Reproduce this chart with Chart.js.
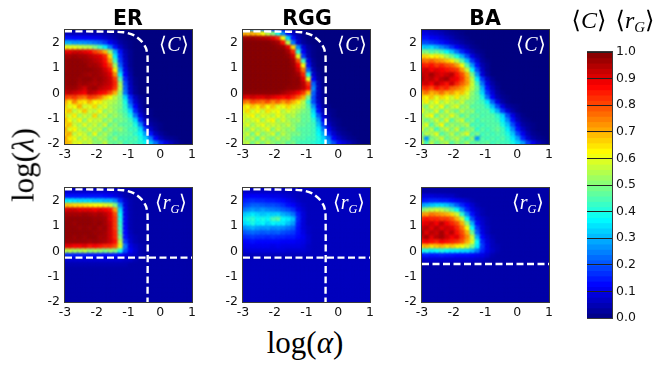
<!DOCTYPE html>
<html><head><meta charset="utf-8">
<script src="https://cdn.jsdelivr.net/npm/chart.js@4"></script>
<style>
html,body{margin:0;padding:0;background:#fff;width:664px;height:366px;overflow:hidden}
canvas{position:absolute}
.t{position:absolute;white-space:nowrap;transform:translate(-50%,-50%);line-height:1}
.title{font:bold 20.5px "DejaVu Sans";color:#000}
.math{font-family:"Liberation Serif","DejaVu Serif",serif;color:#000}
.ann{color:#fff;font-size:20px;font-family:"Liberation Serif",serif}
sub{font-size:.62em;line-height:0;font-style:italic;vertical-align:-.3em}
</style></head><body>
<script>
const alphaGrid=[-3,-2.84,-2.68,-2.52,-2.36,-2.2,-2.04,-1.88,-1.72,-1.56,-1.4,-1.24,-1.08,-0.92,-0.76,-0.6,-0.44,-0.28,-0.12,0.04,0.2,0.36,0.52,0.68,0.84,1];
const lambdaGrid=[2.5,2.32,2.14,1.96,1.78,1.6,1.42,1.24,1.06,0.88,0.7,0.52,0.34,0.16,-0.02,-0.2,-0.38,-0.56,-0.74,-0.92,-1.1,-1.28,-1.46,-1.64,-1.82,-2];
const alphaTicks=[-3,-2,-1,0,1];
const lambdaTicks=[-2,-1,0,1,2];
const colorTicks=[0,0.1,0.2,0.3,0.4,0.5,0.6,0.7,0.8,0.9,1];
const colorLevels=[0.01,0.03,0.05,0.07,0.09,0.11,0.13,0.15,0.17,0.19,0.21,0.23,0.25,0.27,0.29,0.31,0.33,0.35,0.37,0.39,0.41,0.43,0.45,0.47,0.49,0.51,0.53,0.55,0.57,0.59,0.61,0.63,0.65,0.67,0.69,0.71,0.73,0.75,0.77,0.79,0.81,0.83,0.85,0.87,0.89,0.91,0.93,0.95,0.97,0.99];
// Percent values, rows top (lambda 2.5) to bottom; columns left (alpha -3) onward; missing cells take the panel's floor.
const erC=[
[3,3,3,3,3,3,3,2,2,2,1,1],
[6,6,6,6,6,5,5,5,4,3,2,1],
[14,14,13,13,12,12,11,10,8,6,4,2,1],
[30,30,28,28,27,26,24,22,18,12,8,4,2,1],
[62,60,60,58,56,55,50,44,36,25,14,7,3,1],
[90,90,92,92,90,88,82,78,70,52,30,14,5,2],
[96,96,97,96,96,94,92,90,84,66,36,16,6,2],
[97,98,98,98,97,96,94,92,86,72,44,18,7,2],
[97,98,98,98,98,96,96,94,88,80,54,22,8,2],
[97,98,98,98,98,98,97,96,92,86,64,28,10,3],
[98,98,98,98,97,96,97,96,94,90,74,36,12,4],
[97,98,98,97,98,98,96,97,95,92,82,46,16,5,1],
[97,98,98,96,97,96,95,96,94,92,84,54,20,6,1],
[96,97,97,95,92,96,97,94,92,90,82,56,22,7,2],
[92,94,92,90,88,94,92,88,86,80,70,52,24,8,2],
[82,80,82,78,76,82,80,76,68,62,56,50,34,16,6,2,1],
[72,64,74,66,64,70,62,64,58,56,54,50,40,20,8,3,1],
[68,60,62,70,58,60,66,56,60,54,52,50,42,26,12,4,1],
[64,68,56,60,68,58,56,62,52,56,52,48,44,34,16,6,2,1],
[66,58,64,54,58,55,66,54,58,50,54,50,46,40,24,10,4,1],
[70,62,56,63,52,60,56,58,50,55,48,50,48,44,34,16,6,2,1],
[65,68,58,54,60,54,58,52,58,48,52,47,46,46,40,26,10,4,2,1],
[72,60,63,56,52,59,53,57,48,54,49,52,48,44,44,34,18,7,3,1],
[67,70,56,60,57,51,61,50,55,50,46,48,47,46,42,38,28,14,6,3,1],
[73,64,61,54,59,56,50,55,52,47,52,45,46,44,46,40,34,24,12,6,3,2,1],
[70,68,59,61,55,58,52,51,57,49,47,50,44,46,44,42,38,32,24,16,10,6,3,1]];
const rggC=[
[22,26,28,26,24,20,16,12,8,5,3,2,1],
[70,70,70,68,62,56,50,40,26,14,7,3,1],
[97,97,97,96,95,94,90,84,62,34,14,6,2],
[99,99,99,99,99,99,98,96,86,56,24,8,3,1],
[99,99,99,99,99,99,99,98,97,90,66,26,9,3,1],
[99,99,99,99,99,99,99,99,99,96,84,42,12,4,1],
[99,99,99,99,99,99,99,99,99,98,92,60,18,5,1],
[99,99,99,99,99,99,99,99,99,99,96,80,44,10,2],
[99,99,99,99,99,99,99,99,99,99,97,88,62,14,3],
[99,99,99,99,99,99,99,99,99,99,98,92,76,22,5,1],
[99,99,99,99,99,99,99,99,99,99,98,96,84,40,8,2],
[99,99,99,99,99,99,99,99,99,99,98,98,90,60,12,3,1],
[99,99,99,99,99,99,99,99,99,99,98,98,94,82,22,5,1],
[99,99,99,99,99,99,99,99,99,98,98,97,94,86,26,6,1],
[98,98,98,98,98,98,98,98,96,94,92,88,82,68,22,6,2],
[92,90,92,90,90,92,90,88,86,88,84,78,70,50,20,6,2],
[78,74,80,78,76,80,74,78,72,76,70,64,56,42,20,7,2],
[66,62,68,64,70,62,68,60,62,66,60,58,54,46,28,10,3,1],
[60,66,58,63,57,65,60,62,55,60,57,54,50,48,34,14,5,2,1],
[57,60,63,55,60,58,55,61,58,53,56,51,48,48,38,22,8,3,1],
[61,55,58,61,53,60,63,53,59,54,51,53,47,48,42,28,12,4,2,1],
[55,60,53,58,61,55,58,56,53,57,52,49,48,46,44,32,18,7,3,1],
[58,51,59,53,56,61,51,58,54,51,54,47,46,46,44,36,24,11,5,2,1],
[53,58,49,59,51,54,59,49,56,52,49,50,46,46,44,38,30,16,8,4,2,1],
[59,51,56,47,58,52,49,56,50,53,47,46,46,44,44,40,34,24,12,7,4,2,1],
[54,57,49,56,50,56,52,49,52,47,50,45,44,44,42,40,36,28,20,13,9,6,3,1]];
const baC=[
[6,6,5,4,3,2,1],
[10,10,8,7,6,4,3,2,1],
[14,14,12,11,9,7,5,3,2,1],
[20,20,18,16,14,11,8,6,4,2,1],
[34,32,34,30,26,22,17,12,8,5,2,1],
[50,50,46,48,44,38,32,24,16,10,5,2,1],
[66,66,62,64,60,54,48,40,30,20,10,5,2],
[78,76,78,74,72,68,64,56,46,32,18,9,3,1],
[86,84,86,82,84,80,78,72,62,46,28,14,5,2],
[90,92,88,90,88,86,84,82,72,58,38,20,7,2],
[94,92,96,92,90,92,94,86,80,70,50,28,9,3],
[96,92,94,90,94,96,90,88,82,72,56,36,18,7,2],
[90,92,88,94,90,86,92,84,78,72,58,44,24,10,4,1],
[82,84,80,86,82,84,78,76,72,66,56,48,30,14,6,2],
[72,76,70,72,76,70,72,66,68,60,52,46,34,18,9,3,1],
[66,62,68,60,66,62,58,64,56,58,50,48,40,24,12,5,2,1],
[58,64,56,62,54,60,56,52,58,50,50,46,44,36,22,10,4,1],
[56,50,60,54,62,50,56,60,50,54,46,47,46,42,32,20,10,4,2,1],
[62,54,52,60,48,58,52,48,56,50,52,45,46,46,40,30,18,9,4,1],
[50,58,62,48,56,52,60,54,46,52,46,48,45,46,46,42,34,20,10,4,1],
[56,48,52,58,50,60,46,54,58,46,50,44,47,46,46,44,36,26,14,6,2,1],
[52,60,46,54,62,48,54,50,52,56,44,46,44,46,46,46,40,32,20,10,4,2,1],
[60,50,56,44,52,58,50,58,46,50,52,42,47,44,46,48,44,36,26,14,7,3,1],
[48,56,54,60,46,50,56,48,54,60,46,50,44,46,44,46,44,40,32,20,11,5,2,1],
[54,28,50,52,58,48,52,56,50,44,52,28,46,44,46,44,46,42,36,28,16,8,4,2,1],
[58,44,56,48,52,56,46,52,48,54,46,48,46,48,44,46,44,44,40,34,28,18,11,6,3,1]];
const erR=[
[],
[8,8,8,8,8,8,8,8,8,7,7,5],
[14,14,14,14,14,14,14,14,13,12,10,8,5],
[36,36,35,34,34,34,32,32,30,30,26,16,8,5],
[68,68,66,66,65,64,62,62,60,58,50,26,9,5],
[90,92,92,90,90,90,88,90,88,86,72,34,10,5],
[96,96,96,96,97,96,95,96,94,90,80,38,10,5],
[97,98,98,98,98,98,97,97,96,90,82,40,11,5],
[98,98,97,98,98,98,97,98,96,92,82,42,11,5],
[98,98,98,97,98,97,98,96,97,92,82,44,12,5],
[98,98,98,98,98,98,97,97,96,92,84,46,13,6],
[98,98,97,98,97,98,98,96,96,92,84,50,14,7,5],
[97,97,97,97,97,96,97,96,95,92,86,56,18,8,5],
[90,90,88,88,90,86,88,86,84,84,80,60,24,10,7,5],
[56,56,54,54,56,52,54,52,50,52,50,40,20,12,8,5],
[16,16,15,15,15,14,14,14,13,14,14,12,10,8,7,5],
[8,8,8,8,8,8,8,8,8,8,8,8,7,7,5],
[5,5,5,5,5,5,5,5,5,5,5,5,5]];
const rggR=[
[],
[7,7,7,7,7,7,7,7,6],
[11,12,12,12,11,11,10,10,9,8,7],
[15,16,17,16,16,15,15,14,13,11,9,7],
[18,20,22,22,21,20,20,19,17,14,12,9,7],
[24,26,28,26,28,26,25,24,22,20,17,11,8],
[32,34,36,34,32,34,33,34,30,28,24,15,9],
[36,40,42,38,40,38,44,46,38,36,32,16,9],
[34,36,40,36,38,34,38,36,36,32,28,15,9],
[26,28,30,28,27,28,26,27,26,24,22,14,9,7],
[20,22,23,22,21,22,21,22,20,19,18,14,10,7],
[16,17,18,17,17,16,17,16,16,15,15,13,11,8],
[12,13,14,13,13,13,13,13,12,12,12,11,10,8],
[10,11,11,11,11,11,10,11,10,10,10,10,9,7],
[8,9,9,9,9,9,9,9,9,8,8,8,8,7]];
const baR=[
[],
[],
[9,9,9,8,8,7,7,5],
[14,15,16,16,15,15,13,11,9,7,5],
[28,30,32,34,34,32,28,22,16,12,8,5],
[50,54,56,58,56,52,46,38,26,16,10,7,5],
[72,72,76,74,72,70,66,58,42,26,14,8,5],
[84,86,84,84,82,82,78,70,58,38,20,10,7,5],
[88,90,92,88,94,88,84,80,70,52,30,13,8,5],
[92,94,90,94,90,92,90,84,76,62,38,18,9,6],
[96,90,94,92,96,90,94,86,80,70,48,22,10,6],
[92,96,90,94,96,92,88,90,82,74,58,30,13,8,5],
[86,88,86,84,88,86,84,82,78,70,60,38,16,9,6],
[68,70,66,68,70,66,68,64,62,58,50,36,18,10,6,5],
[38,40,36,38,40,38,36,36,34,34,30,24,16,10,7,5],
[14,15,14,14,15,14,14,13,13,13,12,11,10,8,5],
[8,8,8,8,8,8,8,8,8,8,8,7,7,5]];
// Dashed guide lines
const curveAlpha=[-3,-2,-1.16,-0.84,-0.58,-0.45,-0.4,-0.4];
const curveLambda=[2.45,2.44,2.41,2.3,2.04,1.78,1.45,-2];
const lineAlpha=[-3,1];
const erRggLineLambda=[-0.25,-0.25];
const baLineLambda=[-0.5,-0.5];

function jet(v){const c=x=>Math.round(255*Math.max(0,Math.min(1,x)));
  return `rgb(${c(Math.min(4*v-1.5,-4*v+4.5))},${c(Math.min(4*v-0.5,-4*v+3.5))},${c(Math.min(4*v+0.5,-4*v+2.5))})`;}

const heatPlugin={id:'heat',
  beforeDatasetsDraw(ch,a,o){const {ctx,chartArea:r}=ch;ctx.save();ctx.fillStyle=jet(o.floor/100);
    ctx.fillRect(r.left,r.top,r.width,r.height);ctx.restore();},
  beforeDatasetDraw(ch,a){if(ch.data.datasets[a.index].heat)ch.ctx.filter='blur(1.2px)';},
  afterDatasetDraw(ch,a){if(ch.data.datasets[a.index].heat)ch.ctx.filter='none';},
  afterDraw(ch){frame(ch);}};
function frame(ch){const {ctx,chartArea:r}=ch;ctx.save();ctx.strokeStyle='#3a3a3a';ctx.lineWidth=1;
  ctx.strokeRect(r.left-0.5,r.top-0.5,r.width+1,r.height+1);ctx.restore();}
function noPad(s){s.paddingTop=s.paddingBottom=s.paddingLeft=s.paddingRight=0;}

const tickFont={family:'"DejaVu Sans"',size:12.5};
const PW=127,PH=114,LW=30,BH=20,TOP=2,RIGHT=10;
function place(x,y,w,h){const c=document.createElement('canvas');c.width=w;c.height=h;
  c.style.left=x+'px';c.style.top=y+'px';c.style.width=w+'px';c.style.height=h+'px';document.body.appendChild(c);return c;}

function panel(px,py,values,floor,lines){
  const pts=[],cols=[];
  lambdaGrid.forEach((ly,j)=>{const row=values[j]||[];
    alphaGrid.forEach((ax,i)=>{const v=row[i]===undefined?floor:row[i];
      pts.push({x:ax,y:ly});cols.push(jet(v/100));});});
  const ds=lines.map(l=>({type:'scatter',data:l.x.map((x,i)=>({x,y:l.y[i]})),showLine:true,tension:l.x.length>2?0.25:0,
    borderColor:'#fff',borderWidth:2.4,borderDash:[7,3.5],pointRadius:0,order:1,fill:false}));
  ds.push({type:'scatter',heat:true,data:pts,pointStyle:'rect',pointRadius:4.6,pointHoverRadius:4.6,
    pointBackgroundColor:cols,pointBorderWidth:0,pointBorderColor:'transparent',order:2});
  const c=place(px-LW,py-TOP,LW+PW+RIGHT,TOP+PH+BH);
  return new Chart(c,{type:'scatter',data:{datasets:ds},plugins:[heatPlugin],options:{
    responsive:false,animation:false,events:[],
    layout:{autoPadding:false,padding:{top:TOP,right:RIGHT,left:0,bottom:0}},
    plugins:{legend:{display:false},tooltip:{enabled:false},heat:{floor}},
    scales:{
      x:{type:'linear',min:-3,max:1,afterFit(s){s.height=BH;noPad(s);},
        afterBuildTicks(s){s.ticks=alphaTicks.map(value=>({value}));},
        grid:{display:false,drawTicks:false},border:{display:false},
        ticks:{font:tickFont,color:'#111',padding:3,maxRotation:0,autoSkip:false}},
      y:{type:'linear',min:-2,max:2.5,afterFit(s){s.width=LW;noPad(s);},
        afterBuildTicks(s){s.ticks=lambdaTicks.map(value=>({value}));},
        grid:{display:false,drawTicks:false},border:{display:false},
        ticks:{font:tickFont,color:'#111',padding:5,autoSkip:false}}
    }}});
}
const curve={x:curveAlpha,y:curveLambda};
const colX=[65,243,422],rowY=[30,188];
panel(colX[0],rowY[0],erC,0,[curve]);
panel(colX[1],rowY[0],rggC,0,[curve]);
panel(colX[2],rowY[0],baC,0,[]);
panel(colX[0],rowY[1],erR,4,[curve,{x:lineAlpha,y:erRggLineLambda}]);
panel(colX[1],rowY[1],rggR,6,[curve,{x:lineAlpha,y:erRggLineLambda}]);
panel(colX[2],rowY[1],baR,4,[{x:lineAlpha,y:baLineLambda}]);

// colour bar
(function(){
  const c=place(587,46,60,282);
  new Chart(c,{type:'bar',data:{datasets:[{data:colorLevels.map(l=>({x:1,y:l})),
      backgroundColor:colorLevels.map(jet),barThickness:6.5,borderWidth:0}]},
    plugins:[{id:'cbFrame',afterDraw:frame}],
    options:{indexAxis:'y',responsive:false,animation:false,events:[],
      layout:{autoPadding:false,padding:{top:6,right:0,left:0,bottom:10}},
      plugins:{legend:{display:false},tooltip:{enabled:false}},
      scales:{
        x:{type:'linear',min:0,max:1,display:false},
        y:{type:'linear',position:'right',min:0,max:1,offset:false,
          afterFit(s){s.width=35;noPad(s);},
          afterBuildTicks(s){s.ticks=colorTicks.map(value=>({value}));},
          grid:{color:'#222',lineWidth:1,z:1,drawTicks:false,offset:false},border:{display:false},
          ticks:{font:tickFont,color:'#111',padding:4,autoSkip:false,callback:v=>v.toFixed(1)}}
      }}});
})();

function txt(x,y,html,cls,extra){const d=document.createElement('div');d.className='t '+cls;d.style.left=x+'px';d.style.top=y+'px';
  if(extra)d.style.cssText+=extra;d.innerHTML=html;document.body.appendChild(d);}
txt(128,18,'ER','title');txt(307,18,'RGG','title');txt(485,18,'BA','title');
const C='⟨<i>C</i>⟩',R='⟨<i>r</i><sub>G</sub>⟩';
[174,352,531].forEach(x=>txt(x,44,C,'ann'));
[171,349,528].forEach(x=>txt(x,202,R,'ann'));
txt(305,342,'log(<i>α</i>)','math','font-size:31px');
txt(23,165,'log(<i>λ</i>)','math','font-size:31px;transform:translate(-50%,-50%) rotate(-90deg)');
txt(589,20,C,'math','font-size:24px');
txt(635,20,R,'math','font-size:24px');
</script>
</body></html>
